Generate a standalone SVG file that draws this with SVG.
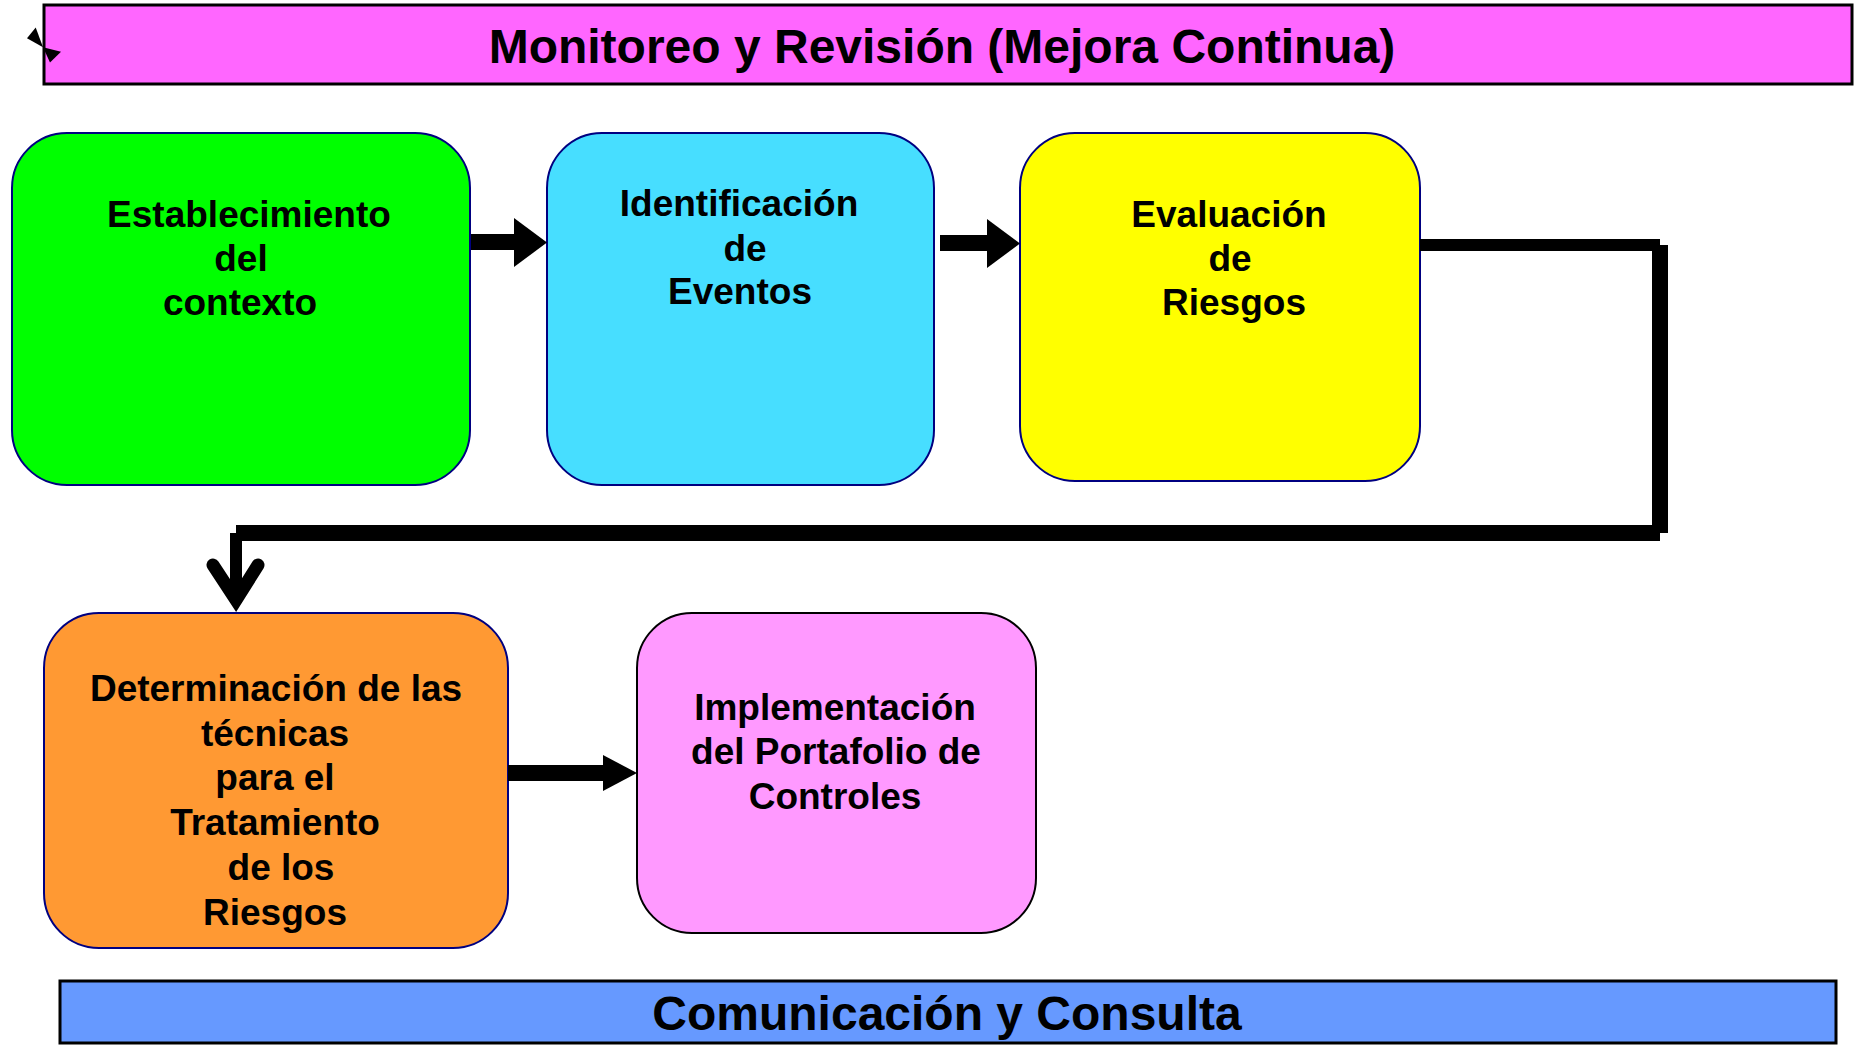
<svg xmlns="http://www.w3.org/2000/svg" width="1858" height="1045" viewBox="0 0 1858 1045">
<style>
text{font-family:"Liberation Sans",Arial,sans-serif;font-weight:bold;fill:#000;text-anchor:middle}
.t{font-size:37px}
.bar{stroke:#000;stroke-width:3}
.box{stroke:#000080;stroke-width:2}
.k{fill:#000}
</style>
<rect width="1858" height="1045" fill="#fff"/>
<g id="monitoreo">
<rect class="bar" x="44" y="5" width="1808" height="79" fill="#FF66FF"/>
<text x="942" y="63" font-size="48">Monitoreo y Revisión (Mejora Continua)</text>
</g>
<g id="icon">
<polygon class="k" points="35.7,27.5 27,38.3 43,47.3"/>
<polygon class="k" points="43,47.3 61,51.7 50,62.5"/>
</g>
<g id="contexto">
<rect class="box" x="12" y="133" width="458" height="352" rx="55" fill="#00FF00"/>
<text class="t" x="249" y="227">Establecimiento</text>
<text class="t" x="241" y="271">del</text>
<text class="t" x="240" y="315">contexto</text>
</g>
<g id="eventos">
<rect class="box" x="547" y="133" width="387" height="352" rx="55" fill="#47DEFF"/>
<text class="t" x="739" y="216">Identificación</text>
<text class="t" x="745" y="261">de</text>
<text class="t" x="740" y="304">Eventos</text>
</g>
<g id="riesgos">
<rect class="box" x="1020" y="133" width="400" height="348" rx="55" fill="#FFFF00"/>
<text class="t" x="1229" y="227">Evaluación</text>
<text class="t" x="1230" y="271">de</text>
<text class="t" x="1234" y="315">Riesgos</text>
</g>
<g id="tratamiento">
<rect class="box" x="44" y="613" width="464" height="335" rx="55" fill="#FF9933"/>
<text class="t" x="276" y="701">Determinación de las</text>
<text class="t" x="275" y="746">técnicas</text>
<text class="t" x="275" y="790">para el</text>
<text class="t" x="275" y="835">Tratamiento</text>
<text class="t" x="281" y="880">de los</text>
<text class="t" x="275" y="925">Riesgos</text>
</g>
<g id="controles">
<rect x="637" y="613" width="399" height="320" rx="55" fill="#FF99FF" stroke="#000" stroke-width="2"/>
<text class="t" x="835" y="720">Implementación</text>
<text class="t" x="836" y="764">del Portafolio de</text>
<text class="t" x="835" y="809">Controles</text>
</g>
<g id="comunicacion">
<rect class="bar" x="60" y="981" width="1776" height="62" fill="#6699FF"/>
<text x="947" y="1030" font-size="48">Comunicación y Consulta</text>
</g>
<g id="connectors">
<rect class="k" x="471" y="234" width="44" height="16"/>
<polygon class="k" points="514,218 547,242.5 514,267"/>
<rect class="k" x="940" y="235" width="48" height="16"/>
<polygon class="k" points="987,219 1020,243.5 987,268"/>
<rect class="k" x="508" y="765" width="96" height="16"/>
<polygon class="k" points="603,755 637,773 603,791"/>
<rect class="k" x="1420" y="239" width="240" height="12"/>
<rect class="k" x="1652" y="245" width="16" height="288"/>
<rect class="k" x="236" y="525" width="1424" height="16"/>
<rect class="k" x="230" y="533" width="12" height="70"/>
<polyline points="213,565 236,600 258,565" fill="none" stroke="#000" stroke-width="13" stroke-linecap="round" stroke-linejoin="miter" stroke-miterlimit="10"/>
</g>
</svg>
